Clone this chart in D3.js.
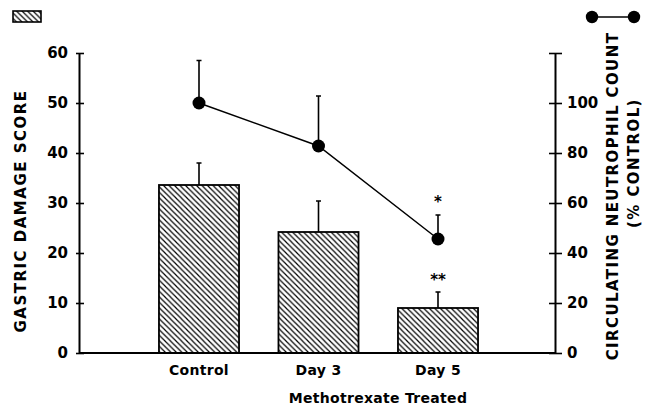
<!DOCTYPE html>
<html>
<head>
<meta charset="utf-8">
<script src="https://cdn.jsdelivr.net/npm/d3@7"></script>
<style>
  body { margin: 0; background: #fff; }
  svg { display: block; }
  text { font-family: "DejaVu Sans", sans-serif; font-weight: bold; fill: #000; }
</style>
</head>
<body>
<div id="chart"></div>
<script>
'use strict';

const categories = ['Control', 'Day 3', 'Day 5']
const damage = [33.6, 24.2, 9]
const damageErr = [4.4, 6.2, 3.2]
const damageSig = ['', '', '**']
const neutrophil = [100, 82.8, 45.6]
const neutrophilErr = [17, 20, 9.6]
const neutrophilSig = ['', '', '*']
const leftTicks = [0, 10, 20, 30, 40, 50, 60]
const rightTicks = [0, 20, 40, 60, 80, 100, 120]

const W = 647, H = 410

const svg = d3.select('#chart').append('svg')
    .attr('width', W)
    .attr('height', H)

// hatch pattern for the bars
const defs = svg.append('defs')
defs.append('pattern')
    .attr('id', 'hatch')
    .attr('patternUnits', 'userSpaceOnUse')
    .attr('width', 5.5)
    .attr('height', 5.5)
    .append('path')
    .attr('d', 'M-1,-1 L6.5,6.5 M-1,4.5 L1,6.5 M4.5,-1 L6.5,1')
    .attr('stroke', '#000')
    .attr('stroke-width', 1.2)

const x = d3.scaleBand()
    .domain(categories)
    .range([139.25, 497.75])
    .paddingInner(0.33)
    .paddingOuter(0.165)

const yL = d3.scaleLinear().domain([0, 60]).range([353, 53])
const yR = d3.scaleLinear().domain([0, 120]).range([353, 53])

const axisL = 79, axisR = 555

// bars
svg.append('g').selectAll('rect')
    .data(damage)
    .join('rect')
    .attr('x', (d, i) => x(categories[i]))
    .attr('y', d => yL(d))
    .attr('width', x.bandwidth())
    .attr('height', d => yL(0) - yL(d))
    .attr('fill', 'url(#hatch)')
    .attr('stroke', '#000')
    .attr('stroke-width', 1.8)

// bar error bars
const cx = i => x(categories[i]) + x.bandwidth() / 2
svg.append('g').selectAll('path')
    .data(damage)
    .join('path')
    .attr('d', (d, i) => `M${cx(i)},${yL(d)} V${yL(d + damageErr[i])} M${cx(i) - 2.5},${yL(d + damageErr[i])} H${cx(i) + 2.5}`)
    .attr('stroke', '#000')
    .attr('stroke-width', 1.6)
    .attr('fill', 'none')

svg.append('g').selectAll('text')
    .data(damageSig)
    .join('text')
    .attr('x', (d, i) => cx(i))
    .attr('y', (d, i) => yL(damage[i] + damageErr[i]) - 7)
    .attr('text-anchor', 'middle')
    .style('font-size', '15px')
    .text(d => d)

// baseline
svg.append('line')
    .attr('x1', axisL).attr('x2', axisR)
    .attr('y1', yL(0)).attr('y2', yL(0))
    .attr('stroke', '#000')
    .attr('stroke-width', 2)

// left axis
const gL = svg.append('g')
    .attr('transform', `translate(${axisL},0)`)
    .call(d3.axisLeft(yL).tickValues(leftTicks).tickSize(4).tickPadding(7).tickSizeOuter(0))
gL.select('.domain').attr('stroke-width', 2)
gL.selectAll('.tick line').attr('x2', 5).attr('x1', -3).attr('stroke-width', 1.6)
gL.selectAll('.tick text')
    .style('font-family', '"DejaVu Sans", sans-serif')
    .style('font-weight', 'bold')
    .style('font-size', '15px')

// right axis
const gR = svg.append('g')
    .attr('transform', `translate(${axisR},0)`)
    .call(d3.axisRight(yR).tickValues(rightTicks).tickSize(6).tickPadding(6).tickSizeOuter(0)
        .tickFormat(d => d === 120 ? '' : d))
gR.select('.domain').attr('stroke-width', 2)
gR.selectAll('.tick line').attr('x1', -6).attr('x2', 7).attr('stroke-width', 1.6)
gR.selectAll('.tick text')
    .style('font-family', '"DejaVu Sans", sans-serif')
    .style('font-weight', 'bold')
    .style('font-size', '15px')

// neutrophil error bars (upper only)
svg.append('g').selectAll('path')
    .data(neutrophil)
    .join('path')
    .attr('d', (d, i) => `M${cx(i)},${yR(d)} V${yR(d + neutrophilErr[i])} M${cx(i) - 2.5},${yR(d + neutrophilErr[i])} H${cx(i) + 2.5}`)
    .attr('stroke', '#000')
    .attr('stroke-width', 1.6)
    .attr('fill', 'none')

svg.append('path')
    .datum(neutrophil)
    .attr('fill', 'none')
    .attr('stroke', '#000')
    .attr('stroke-width', 1.5)
    .attr('d', d3.line()
        .x((d, i) => cx(i))
        .y(d => yR(d)))

svg.append('g').selectAll('circle')
    .data(neutrophil)
    .join('circle')
    .attr('cx', (d, i) => cx(i))
    .attr('cy', d => yR(d))
    .attr('r', 6.5)
    .attr('fill', '#000')

svg.append('g').selectAll('text')
    .data(neutrophilSig)
    .join('text')
    .attr('x', (d, i) => cx(i))
    .attr('y', (d, i) => yR(neutrophil[i] + neutrophilErr[i]) - 8)
    .attr('text-anchor', 'middle')
    .style('font-size', '15px')
    .text(d => d)

// category labels
svg.append('g').selectAll('text')
    .data(categories)
    .join('text')
    .attr('x', (d, i) => cx(i))
    .attr('y', 375)
    .attr('text-anchor', 'middle')
    .style('font-size', '14px')
    .style('letter-spacing', '0.3px')
    .text(d => d)

svg.append('text')
    .attr('x', 378)
    .attr('y', 403)
    .attr('text-anchor', 'middle')
    .style('font-size', '14px')
    .style('letter-spacing', '0.3px')
    .text('Methotrexate Treated')

// axis titles
svg.append('text')
    .attr('transform', 'translate(26,211) rotate(-90)')
    .attr('text-anchor', 'middle')
    .style('font-size', '15px')
    .style('letter-spacing', '1.5px')
    .text('GASTRIC DAMAGE SCORE')

svg.append('text')
    .attr('transform', 'translate(618,196) rotate(-90)')
    .attr('text-anchor', 'middle')
    .style('font-size', '15px')
    .style('letter-spacing', '1.4px')
    .text('CIRCULATING NEUTROPHIL COUNT')

svg.append('text')
    .attr('transform', 'translate(639,163) rotate(-90)')
    .attr('text-anchor', 'middle')
    .style('font-size', '15px')
    .style('letter-spacing', '1.4px')
    .text('(% CONTROL)')

// legend keys
svg.append('rect')
    .attr('x', 13).attr('y', 11)
    .attr('width', 28).attr('height', 11)
    .attr('fill', 'url(#hatch)')
    .attr('stroke', '#000')
    .attr('stroke-width', 1.6)

const lg = svg.append('g')
lg.append('line')
    .attr('x1', 592).attr('x2', 634)
    .attr('y1', 17).attr('y2', 17)
    .attr('stroke', '#000').attr('stroke-width', 1.5)
lg.selectAll('circle')
    .data([592, 634])
    .join('circle')
    .attr('cx', d => d).attr('cy', 17).attr('r', 6.2)
    .attr('fill', '#000')
</script>
</body>
</html>
